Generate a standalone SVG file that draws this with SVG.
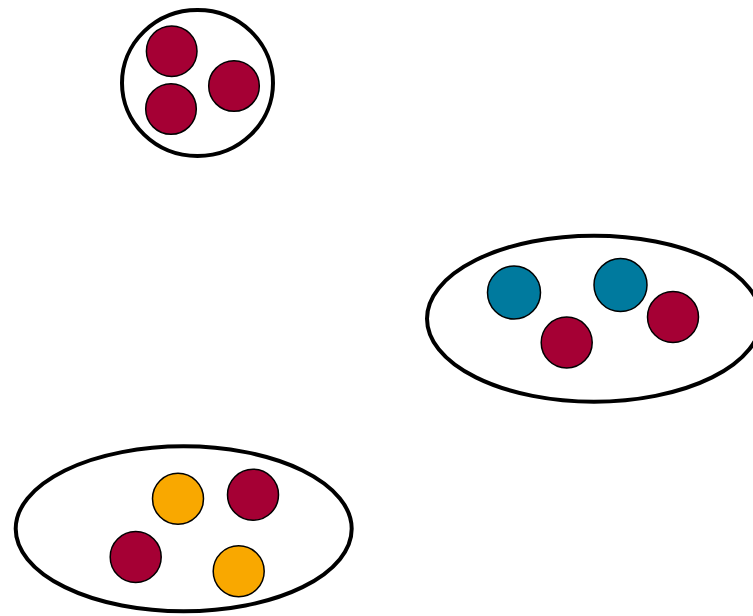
<svg xmlns="http://www.w3.org/2000/svg" width="753" height="616" viewBox="0 0 753 616">
<style>
.grp{fill:#fff;stroke:#000;stroke-width:4}
.dot{stroke:#000;stroke-width:1.5}
.red{fill:#A50034}
.teal{fill:#007A9E}
.orange{fill:#F9A800}
</style>
<rect width="753" height="616" fill="#fff"/>
<g id="group-top">
<ellipse class="grp" cx="197.5" cy="83" rx="75.5" ry="73"/>
<circle class="dot red" cx="171.7" cy="51.2" r="25.3"/>
<circle class="dot red" cx="234" cy="86" r="25.3"/>
<circle class="dot red" cx="171" cy="109" r="25.3"/>
</g>
<g id="group-right">
<ellipse class="grp" cx="594" cy="318.7" rx="167" ry="83"/>
<circle class="dot teal" cx="514" cy="292.5" r="26.5"/>
<circle class="dot teal" cx="620.5" cy="285" r="26.5"/>
<circle class="dot red" cx="566.7" cy="342.5" r="25.5"/>
<circle class="dot red" cx="673" cy="317" r="25.5"/>
</g>
<g id="group-bottom">
<ellipse class="grp" cx="183.7" cy="528.8" rx="168" ry="82.5"/>
<circle class="dot orange" cx="178" cy="498.8" r="25.5"/>
<circle class="dot red" cx="253" cy="494.7" r="25.5"/>
<circle class="dot red" cx="135.7" cy="557" r="25.5"/>
<circle class="dot orange" cx="238.7" cy="571.3" r="25.5"/>
</g>
<g id="connectors"/>
</svg>
